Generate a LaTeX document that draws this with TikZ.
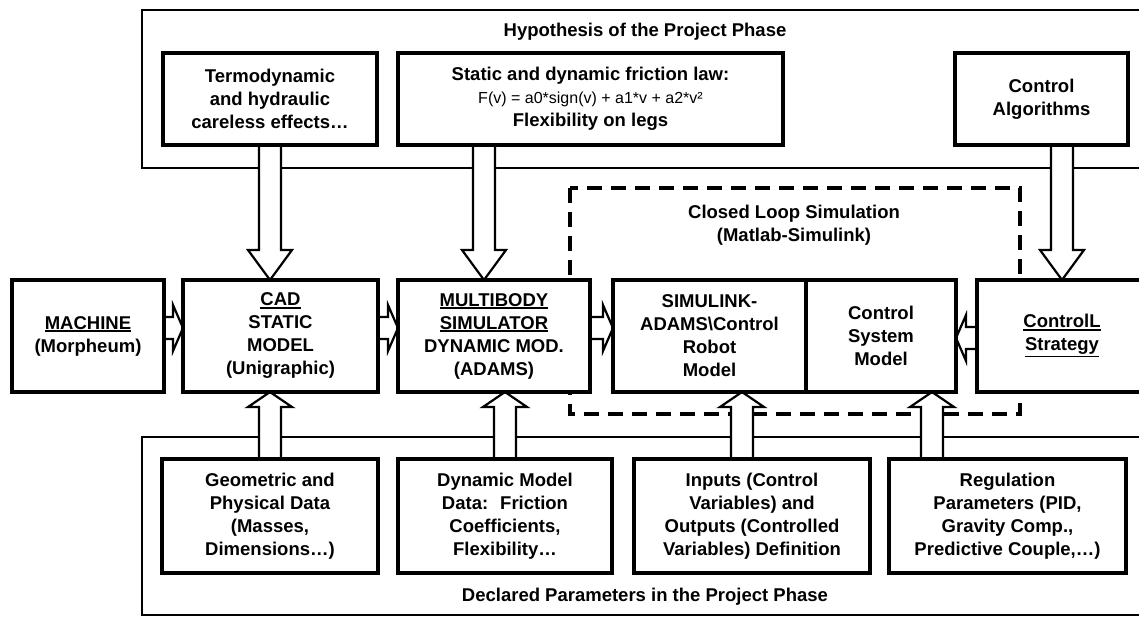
\documentclass[tikz,border=0pt]{standalone}
\usepackage{fontspec}
\setmainfont{Liberation Sans}
\usetikzlibrary{positioning, calc}

\pgfdeclarelayer{back}
\pgfdeclarelayer{mid}
\pgfsetlayers{back,mid,main}

% underlined word with a heavier rule
\newcommand{\ul}[1]{\setbox0\hbox{#1}\rlap{\rule[-\dimexpr\dp0+2.5pt\relax]{\wd0}{1.6pt}}\box0}

% hollow block arrows: #1 start, #2 tip, #3 offset of the head base
\newcommand{\vblk}[3]{%
  \draw[blk] let \p1=(#1), \p2=(#2) in
    (\x1-11pt,\y1) -- (\x1-11pt,\y2#3) -- (\x1-22pt,\y2#3) -- (\x1,\y2)
    -- (\x1+22pt,\y2#3) -- (\x1+11pt,\y2#3) -- (\x1+11pt,\y1) -- cycle;}
\newcommand{\hblk}[3]{%
  \draw[blk] let \p1=(#1), \p2=(#2) in
    (\x1,\y1+11pt) -- (\x2#3,\y1+11pt) -- (\x2#3,\y1+23pt) -- (\x2,\y1)
    -- (\x2#3,\y1-23pt) -- (\x2#3,\y1-11pt) -- (\x1,\y1-11pt) -- cycle;}

\begin{document}
\begin{tikzpicture}[x=1pt, y=1pt,
  box/.style={draw, fill=white, line width=4pt, outer sep=0pt, inner sep=2pt,
              align=center, font=\fontsize{18.5}{23}\selectfont\bfseries},
  lbl/.style={align=center, font=\fontsize{18.5}{23}\selectfont\bfseries},
  frame/.style={line width=2.6pt},
  loopbox/.style={line width=4pt, dash pattern=on 15pt off 9pt},
  blk/.style={draw, fill=white, line width=2.2pt, line join=miter},
]
  \useasboundingbox (0,0) rectangle (1139,617);
  \clip (0,0) rectangle (1139,617);

  % top row
  \node[box, minimum width=214pt, minimum height=92pt] (termo) at (270,518)
    {Termodynamic\\and hydraulic\\careless effects\ldots};
  \node[box, minimum width=385pt, minimum height=92pt, right=21pt of termo] (fric)
    {Static and dynamic friction law:\\
     {\fontsize{16}{23}\selectfont\mdseries F(v) = a0*sign(v) + a1*v + a2*v²}\\
     Flexibility on legs};
  \node[box, minimum width=173pt, minimum height=92pt] (calg) at (1041.5,518)
    {Control\\Algorithms};

  % middle row
  \node[box, minimum width=152pt, minimum height=112pt] (mach) at (88,281)
    {\ul{MACHINE}\\(Morpheum)};
  \node[box, minimum width=195pt, minimum height=112pt, right=19pt of mach] (cad)
    {\ul{CAD}\\STATIC\\MODEL\\(Unigraphic)};
  \node[box, minimum width=192pt, minimum height=112pt, right=20pt of cad] (mb)
    {\ul{MULTIBODY}\\\ul{SIMULATOR}\\DYNAMIC MOD.\\(ADAMS)};
  \node[box, minimum width=193pt, minimum height=112pt, right=23pt of mb] (sim)
    {SIMULINK-\\ADAMS\textbackslash Control\\Robot\\Model};
  \node[box, minimum width=150pt, minimum height=112pt, right=0pt of sim] (css)
    {Control\\System\\Model};
  \node[box, minimum width=170pt, minimum height=112pt, right=21pt of css] (ctrl)
    {\ul{ControlL}\\\ul{Strategy}};

  % bottom row
  \node[box, minimum width=216pt, minimum height=114pt] (geo) at (270,101)
    {Geometric and\\Physical Data\\(Masses,\\Dimensions\ldots)};
  \node[box, minimum width=214pt, minimum height=114pt, right=20pt of geo] (dyn)
    {Dynamic Model\\Data:~ Friction\\Coefficients,\\Flexibility\ldots};
  \node[box, minimum width=236pt, minimum height=114pt, right=22pt of dyn] (inp)
    {Inputs (Control\\Variables) and\\Outputs (Controlled\\Variables) Definition};
  \node[box, minimum width=237pt, minimum height=114pt, right=19pt of inp] (reg)
    {Regulation\\Parameters (PID,\\Gravity Comp.,\\Predictive Couple,\ldots)};

  % titles
  \node[lbl] (hyp) at (645,585) {Hypothesis of the Project Phase};
  \node[lbl] (decl) at (645,20) {Declared Parameters in the Project Phase};
  \node[lbl] (cls) at (794,392) {Closed Loop Simulation\\(Matlab-Simulink)};

  \begin{pgfonlayer}{back}
    \draw[frame] (1150,607) -- (142,607) -- (142,449) -- (1150,449);
    \draw[frame] (1150,180) -- (142,180) -- (142,2) -- (1150,2);
    \draw[loopbox] (570,429) rectangle (1020,203);
  \end{pgfonlayer}

  \begin{pgfonlayer}{mid}
    \vblk{termo.south}{termo.south |- cad.north}{+30pt}
    \vblk{$(mb.north |- fric.south)+(-10pt,0)$}{$(mb.north)+(-10pt,0)$}{+30pt}
    \vblk{calg.south -| ctrl.north}{ctrl.north}{+30pt}
    \vblk{geo.north}{geo.north |- cad.south}{-15pt}
    \vblk{dyn.north}{dyn.north |- mb.south}{-15pt}
    \vblk{$(inp.north)+(-10pt,0)$}{$(inp.north |- sim.south)+(-10pt,0)$}{-15pt}
    \vblk{$(css.south |- reg.north)+(51pt,0)$}{$(css.south)+(51pt,0)$}{-15pt}
    \hblk{$(mach.east)+(0,8pt)$}{$(cad.west)+(0,8pt)$}{-10pt}
    \hblk{$(cad.east)+(0,8pt)$}{$(mb.west)+(0,8pt)$}{-10pt}
    \hblk{$(mb.east)+(0,8pt)$}{$(sim.west)+(0,8pt)$}{-10pt}
    \hblk{$(ctrl.west)+(0,-2pt)$}{$(css.east)+(0,-2pt)$}{+10pt}
  \end{pgfonlayer}
\end{tikzpicture}
\end{document}
